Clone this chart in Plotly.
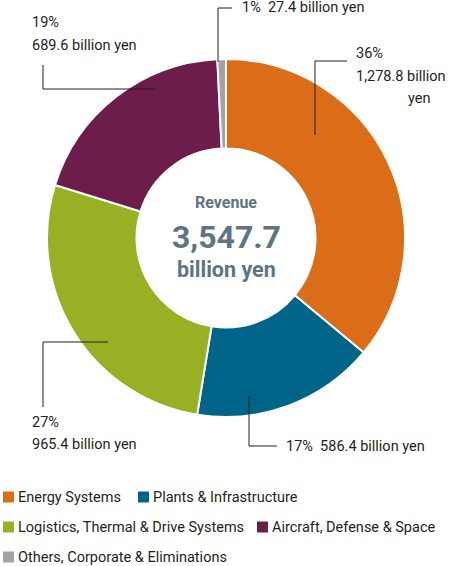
import plotly.graph_objects as go

segments = ["Energy Systems", "Plants & Infrastructure", "Logistics, Thermal & Drive Systems",
            "Aircraft, Defense & Space", "Others, Corporate & Eliminations"]
revenue = [1278.8, 586.4, 965.4, 689.6, 27.4]
shares = [36, 17, 27, 19, 1]
colors = ["#DC6D18", "#006388", "#97B024", "#6C1D4B", "#A3A3A3"]
total_label = "3,547.7"

W, H = 450, 566
TXT = "#231F20"
CENTER = "#5D7582"
FONT = "Roboto"
FS = 14.5


def px(x):
    return x / W


def py(y):
    return 1 - y / H


fig = go.Figure()
fig.add_trace(go.Pie(
    labels=segments, values=revenue, hole=0.5, sort=False, direction="clockwise",
    rotation=0, textinfo="none", hoverinfo="label+value+percent",
    marker=dict(colors=colors, line=dict(color="white", width=2)),
    domain=dict(x=[px(47), px(405)], y=[py(417), py(59)]),
    showlegend=False,
))

annotations = []
shapes = []

# centre text
annotations += [
    dict(x=px(226), y=py(202), text="<b>Revenue</b>", font=dict(size=16, color=CENTER)),
    dict(x=px(226), y=py(237), text="<b>" + total_label + "</b>", font=dict(size=32, color=CENTER)),
    dict(x=px(226), y=py(269), text="<b>billion yen</b>", font=dict(size=21.5, color=CENTER)),
]


def money(v):
    return f"{v:,.1f} billion yen"


def leader(pts):
    for (x0, y0), (x1, y1) in zip(pts[:-1], pts[1:]):
        shapes.append(dict(type="line", xref="paper", yref="paper",
                           x0=px(x0), y0=py(y0), x1=px(x1), y1=py(y1),
                           line=dict(color=TXT, width=1)))


def label(x, y, text, anchor="left"):
    annotations.append(dict(x=px(x), y=py(y), text=text, xanchor=anchor,
                            font=dict(size=FS, color=TXT)))


# Energy Systems
leader([(315, 135), (315, 61), (347, 61)])
label(354, 53, f"{shares[0]}%")
label(354, 76, money(revenue[0]).replace(" yen", ""))
label(432, 98, "yen", "right")

# Plants & Infrastructure
leader([(249, 396), (249, 446), (277, 446)])
label(284, 446, f"{shares[1]}%  " + money(revenue[1]))

# Logistics
leader([(108, 342), (43, 342), (43, 407)])
label(30, 422, f"{shares[2]}%")
label(30, 444, money(revenue[2]))

# Aircraft
leader([(155, 89), (43, 89), (43, 65)])
label(30, 23, f"{shares[3]}%")
label(30, 45, money(revenue[3]))

# Others
leader([(218, 62), (218, 8), (232, 8)])
label(240, 8, f"{shares[4]}%  " + money(revenue[4]))

# legend
legend_pos = [(3, 497), (138, 497), (3, 527), (257, 527), (3, 557)]
for name, col, (lx, ly) in zip(segments, colors, legend_pos):
    shapes.append(dict(type="rect", xref="paper", yref="paper",
                       x0=px(lx), x1=px(lx + 11), y0=py(ly + 5.5), y1=py(ly - 5.5),
                       fillcolor=col, line=dict(width=0)))
    annotations.append(dict(x=px(lx + 13), y=py(ly), text=name, xanchor="left",
                            font=dict(size=FS, color=TXT)))

for a in annotations:
    a.setdefault("xref", "paper")
    a.setdefault("yref", "paper")
    a.setdefault("showarrow", False)
    a.setdefault("yanchor", "middle")

fig.update_layout(
    width=W, height=H, margin=dict(l=0, r=0, t=0, b=0),
    paper_bgcolor="white", plot_bgcolor="white",
    font=dict(family=FONT, color=TXT),
    annotations=annotations, shapes=shapes,
)

fig.write_html("out.html", config={"displayModeBar": False},
               post_script="document.body.style.margin='0';")
